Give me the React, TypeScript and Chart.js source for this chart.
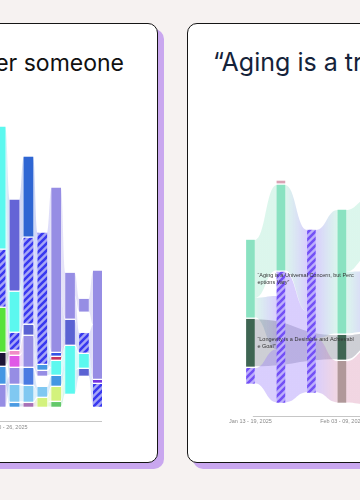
import React, { useEffect, useRef } from 'react';
import { Chart, registerables } from 'chart.js';

Chart.register(...registerables);

// ================= LEFT CARD DATA (weekly node sizes, bottom -> top) =================
const leftTickLabels = ['Jan 20 - 26, 2025'];
const leftTickWeeks = [0];

const leftW1 = [21, 16, 12, 43, 56, 121];
const leftW1Keys = ['lav', 'blue', 'navy', 'green', 'hatch', 'cyan'];
const leftW2 = [3, 16, 15, 10, 3, 16, 39, 90];
const leftW2Keys = ['blueS', 'lightBlue', 'lav', 'magenta', 'pink', 'hatch', 'cyan', 'peri'];
const leftW3 = [3, 15, 16, 30, 9, 85, 79];
const leftW3Keys = ['mauve', 'lightBlue', 'blue2', 'lav', 'peri2', 'hatch', 'blueDark'];
const leftW4 = [8, 9, 8, 4, 4, 130];
const leftW4Keys = ['lime', 'lightBlue', '', 'lav', 'blue', 'hatch'];
const leftW5 = [4, 13, 9, 13, 2, 2, 163];
const leftW5Keys = ['greenE', 'lime', 'blue', 'cyan', 'crimson', 'blue3', 'lav'];
const leftW6 = [11, 47, 24, 45];
const leftW6Keys = ['', 'cyan', 'peri2', 'lav'];
const leftW7 = [29, 6, 13, 19, 18, 12];
const leftW7Keys = ['', 'peri2', 'cyan', 'hatch', '', 'lav'];
const leftW8 = [22, 2, 107];
const leftW8Keys = ['hatch', 'purple', 'lav'];

// links between consecutive weeks: [fromSegment, toSegment, weight]
const leftLinks12 = [[0, 2, 1], [1, 1, 1], [1, 0, 1], [2, 4, 1], [3, 3, 1], [3, 2, 1], [4, 5, 1], [5, 6, 1], [5, 7, 2]];
const leftLinks23 = [[0, 0, 1], [1, 1, 1], [2, 2, 1], [3, 3, 1], [4, 3, 1], [5, 5, 1], [6, 5, 1], [7, 6, 1], [7, 5, 1]];
const leftLinks34 = [[0, 0, 1], [1, 1, 1], [2, 1, 1], [3, 3, 1], [3, 4, 1], [4, 5, 1], [5, 5, 2], [6, 5, 2]];
const leftLinks45 = [[0, 0, 1], [0, 1, 1], [1, 2, 1], [3, 3, 1], [4, 4, 1], [4, 5, 1], [5, 3, 1], [5, 6, 3]];
const leftLinks56 = [[0, 1, 1], [1, 1, 1], [2, 1, 1], [3, 1, 1], [4, 2, 1], [5, 2, 1], [6, 2, 1], [6, 3, 2]];
const leftLinks67 = [[1, 1, 1], [1, 2, 1], [2, 3, 1], [3, 3, 1], [3, 5, 1]];
const leftLinks78 = [[1, 0, 1], [2, 0, 1], [2, 1, 1], [3, 2, 1], [5, 2, 1]];

// ================= RIGHT CARD DATA =================
const rightTickLabels = ['Jan 13 - 19, 2025', 'Feb 03 - 09, 2025'];
const rightTickWeeks = [0, 3];
const rightBase = [33, 14, 24, 14, 12];

const rightW1 = [15, 47, 77];
const rightW1Keys = ['hatch', 'longevity', 'aging'];
const rightW2 = [130, 85, 2];
const rightW2Keys = ['hatch', 'aging', 'other'];
const rightW3 = [162];
const rightW3Keys = ['hatch'];
const rightW4 = [41, 24, 123];
const rightW4Keys = ['mauve', 'longevity', 'aging'];
const rightW5 = [55, 14, 60, 10, 58];
const rightW5Keys = ['mauve', 'longevity', 'hatch', '', 'aging'];

// [fromWeek, fromSegment, toWeek, toSegment, weight]; fromWeek -1 = unshown source
const rightLinks = [
  [0, 2, 1, 1, 3], [0, 2, 1, 0, 1], [0, 1, 3, 1, 1], [0, 0, 1, 0, 1], [-1, -1, 1, 0, 0.45],
  [1, 1, 2, 0, 1], [1, 0, 2, 0, 1],
  [2, 0, 3, 2, 2], [2, 0, 3, 0, 1],
  [3, 2, 4, 4, 1], [3, 2, 4, 2, 1], [3, 1, 4, 1, 1], [3, 0, 4, 0, 1],
];

const rightNodeLabels = [
  { week: 0, seg: 2, text: '“Aging is a Universal Concern, but Perceptions Vary”' },
  { week: 0, seg: 1, text: '“Longevity is a Desirable and Achievable Goal”' },
];

// ================= STYLES =================
const leftColors: Record<string, string> = {
  lav: '#968de4', blue: '#4597e3', navy: '#1d1535', green: '#58e23a', cyan: '#5cf8ef',
  blueS: '#4a9ae2', lightBlue: '#80c8f1', magenta: '#e058e6', pink: '#f08cc6', peri: '#6464d6',
  mauve: '#a870b6', blue2: '#4a7ae2', peri2: '#5b62d3', blueDark: '#2f66d3', lime: '#d3f27c',
  greenE: '#63c86a', crimson: '#c6355e', blue3: '#3354e6', purple: '#7434e0', hatch: '#6a6af0',
};
const rightColors: Record<string, string> = {
  aging: '#8ae2c1', longevity: '#3e6552', mauve: '#b09899', other: '#d9a3b5', hatch: '#9678fa',
};
const rightLinkColors: Record<string, string> = {
  aging: 'rgba(138,226,193,0.3)', longevity: 'rgba(90,95,115,0.3)', mauve: 'rgba(210,120,160,0.3)',
  other: 'rgba(210,120,160,0.3)', hatch: 'rgba(150,120,250,0.36)',
};

type Seg = { key: string; lo: number; hi: number };

function stackColumns(values: number[][], keys: string[][], bases: number[], gap: number): Seg[][] {
  return values.map((vals, c) => {
    let y = bases[c] || 0;
    return vals.map((v, i) => {
      const s = { key: keys[c][i], lo: y, hi: y + v };
      y += v + gap;
      return s;
    });
  });
}

function pairLinks(pairs: number[][][]): number[][] {
  const out: number[][] = [];
  pairs.forEach((list, c) => list.forEach(([a, b, w]) => out.push([c, a, c + 1, b, w])));
  return out;
}

function hexToRgba(hex: string, a: number) {
  const n = parseInt(hex.slice(1), 16);
  return `rgba(${(n >> 16) & 255},${(n >> 8) & 255},${n & 255},${a})`;
}

function computeRibbons(layout: Seg[][], links: number[][]) {
  const outs = new Map<string, number[][]>();
  const ins = new Map<string, number[][]>();
  links.forEach((l) => {
    if (l[0] >= 0) {
      const k = l[0] + ':' + l[1];
      if (!outs.has(k)) outs.set(k, []);
      outs.get(k)!.push(l);
    }
    const k2 = l[2] + ':' + l[3];
    if (!ins.has(k2)) ins.set(k2, []);
    ins.get(k2)!.push(l);
  });
  const src = new Map<number[], number[]>();
  const dst = new Map<number[], number[]>();
  const share = (node: Seg, ls: number[][], pos: (l: number[]) => number, into: Map<number[], number[]>) => {
    const total = ls.reduce((a, l) => a + l[4], 0);
    const sorted = [...ls].sort((a, b) => pos(a) - pos(b));
    let y = node.lo;
    sorted.forEach((l) => {
      const h = ((node.hi - node.lo) * l[4]) / total;
      into.set(l, [y, y + h]);
      y += h;
    });
  };
  outs.forEach((ls, k) => {
    const [c, s] = k.split(':').map(Number);
    share(layout[c][s], ls, (l) => layout[l[2]][l[3]].lo, src);
  });
  ins.forEach((ls, k) => {
    const [c, s] = k.split(':').map(Number);
    share(layout[c][s], ls, (l) => (l[0] < 0 ? 1e9 : layout[l[0]][l[1]].lo), dst);
  });
  return links
    .filter((l) => l[0] >= 0)
    .map((l) => ({
      from: l[0], to: l[2],
      fromKey: layout[l[0]][l[1]].key, toKey: layout[l[2]][l[3]].key,
      s: src.get(l)!, d: dst.get(l)!,
    }));
}

function makeHatch(base: string, stripe: string, size: number, lw: number) {
  const c = document.createElement('canvas');
  c.width = size;
  c.height = size;
  const g = c.getContext('2d')!;
  g.fillStyle = base;
  g.fillRect(0, 0, size, size);
  g.strokeStyle = stripe;
  g.lineWidth = lw;
  g.beginPath();
  g.moveTo(0, size); g.lineTo(size, 0);
  g.moveTo(-size / 2, size / 2); g.lineTo(size / 2, -size / 2);
  g.moveTo(size / 2, size * 1.5); g.lineTo(size * 1.5, size / 2);
  g.stroke();
  return g.createPattern(c, 'repeat')!;
}

function wrapChars(ctx: CanvasRenderingContext2D, text: string, maxW: number) {
  const lines: string[] = [];
  let cur = '';
  for (const ch of text) {
    if (cur && ctx.measureText(cur + ch).width > maxW) {
      lines.push(cur);
      cur = ch;
    } else cur += ch;
  }
  if (cur) lines.push(cur);
  return lines;
}

interface Spec {
  layout: Seg[][];
  links: number[][];
  fill: (k: string) => any;
  linkColor: (k: string) => string;
  xMin: number; xMax: number; yMin: number; yMax: number;
  bar: number;
  tickWeeks: number[]; tickLabels: string[]; tickPadding: number; labelOffset: number;
  axisFrom: number; axisTo: number;
  nodeLabels?: { week: number; seg: number; text: string }[];
}

function buildConfig(spec: Spec): any {
  const depth = Math.max(...spec.layout.map((c) => c.length));
  const datasets: any[] = [];
  for (let k = 0; k < depth; k++) {
    const data: any[] = [];
    spec.layout.forEach((col, i) => {
      const s = col[k];
      if (s && s.key) data.push({ x: i, y: [s.lo, s.hi], key: s.key });
    });
    datasets.push({
      data,
      backgroundColor: (c: any) => (c.raw ? spec.fill(c.raw.key) : 'transparent'),
      borderWidth: 0,
      barThickness: spec.bar,
      grouped: false,
      clip: false,
    });
  }
  const ribbons = computeRibbons(spec.layout, spec.links);
  const ribbonPlugin = {
    id: 'ribbons',
    beforeDatasetsDraw(chart: any) {
      const { ctx, scales: { x, y } } = chart;
      const hw = spec.bar / 2;
      ctx.save();
      ribbons.forEach((r) => {
        const x0 = x.getPixelForValue(r.from) + hw;
        const x1 = x.getPixelForValue(r.to) - hw;
        const xm = (x0 + x1) / 2;
        const a0 = y.getPixelForValue(r.s[1]);
        const b0 = y.getPixelForValue(r.s[0]);
        const a1 = y.getPixelForValue(r.d[1]);
        const b1 = y.getPixelForValue(r.d[0]);
        const g = ctx.createLinearGradient(x0, 0, x1, 0);
        g.addColorStop(0, spec.linkColor(r.fromKey));
        g.addColorStop(1, spec.linkColor(r.toKey));
        ctx.fillStyle = g;
        ctx.beginPath();
        ctx.moveTo(x0, a0);
        ctx.bezierCurveTo(xm, a0, xm, a1, x1, a1);
        ctx.lineTo(x1, b1);
        ctx.bezierCurveTo(xm, b1, xm, b0, x0, b0);
        ctx.closePath();
        ctx.fill();
      });
      ctx.restore();
    },
    afterDatasetsDraw(chart: any) {
      const { ctx, chartArea, scales: { x, y } } = chart;
      ctx.save();
      ctx.strokeStyle = '#c6c6c6';
      ctx.lineWidth = 1;
      const yy = Math.round(chartArea.bottom) + 0.5;
      ctx.beginPath();
      ctx.moveTo(x.getPixelForValue(spec.axisFrom), yy);
      ctx.lineTo(x.getPixelForValue(spec.axisTo), yy);
      ctx.stroke();
      if (spec.nodeLabels) {
        ctx.font = '5.5px "Liberation Sans", Arial, sans-serif';
        ctx.fillStyle = '#333333';
        ctx.textBaseline = 'middle';
        ctx.textAlign = 'left';
        spec.nodeLabels.forEach((nl) => {
          const node = spec.layout[nl.week][nl.seg];
          const lx = x.getPixelForValue(nl.week) + spec.bar / 2 + 3;
          const mid = y.getPixelForValue((node.lo + node.hi) / 2);
          const lines = wrapChars(ctx, nl.text, 97);
          lines.forEach((ln, i) => ctx.fillText(ln, lx, mid + (i - (lines.length - 1) / 2) * 7));
        });
      }
      ctx.restore();
    },
  };
  return {
    type: 'bar',
    data: { datasets },
    options: {
      animation: false,
      responsive: false,
      events: [],
      layout: { padding: 0 },
      plugins: { legend: { display: false }, tooltip: { enabled: false } },
      scales: {
        x: {
          type: 'linear',
          offset: false,
          min: spec.xMin,
          max: spec.xMax,
          afterBuildTicks: (s: any) => {
            s.ticks = spec.tickWeeks.map((v) => ({ value: v }));
          },
          ticks: {
            autoSkip: false,
            maxRotation: 0,
            padding: spec.tickPadding,
            labelOffset: spec.labelOffset,
            color: '#8a8a8a',
            font: { family: '"Liberation Sans", Arial, sans-serif', size: 5.5 },
            callback: (_v: any, i: number) => spec.tickLabels[i],
          },
          grid: { display: false, drawTicks: false },
          border: { display: false },
        },
        y: { type: 'linear', display: false, min: spec.yMin, max: spec.yMax },
      },
    },
    plugins: [ribbonPlugin],
  };
}

function ChartCanvas({ make, left, top, width, height }: { make: () => any; left: number; top: number; width: number; height: number }) {
  const ref = useRef<HTMLCanvasElement>(null);
  useEffect(() => {
    const chart = new Chart(ref.current!, make());
    return () => chart.destroy();
  }, []);
  return (
    <canvas
      ref={ref}
      width={width}
      height={height}
      style={{ position: 'absolute', left, top, width, height, display: 'block' }}
    />
  );
}

function makeLeft() {
  const layout = stackColumns(
    [leftW1, leftW2, leftW3, leftW4, leftW5, leftW6, leftW7, leftW8],
    [leftW1Keys, leftW2Keys, leftW3Keys, leftW4Keys, leftW5Keys, leftW6Keys, leftW7Keys, leftW8Keys],
    [],
    2,
  );
  const hatch = makeHatch('#a6a6f6', '#3838f0', 7, 2.6);
  return buildConfig({
    layout,
    links: pairLinks([leftLinks12, leftLinks23, leftLinks34, leftLinks45, leftLinks56, leftLinks67, leftLinks78]),
    fill: (k) => (k === 'hatch' ? hatch : leftColors[k]),
    linkColor: (k) => hexToRgba(leftColors[k] || '#968de4', 0.25),
    xMin: -3, xMax: 7.3, yMin: -15, yMax: 285,
    bar: 9,
    tickWeeks: leftTickWeeks, tickLabels: leftTickLabels, tickPadding: 3, labelOffset: 5.5,
    axisFrom: -3, axisTo: 7.3,
  });
}

function makeRight() {
  const layout = stackColumns(
    [rightW1, rightW2, rightW3, rightW4, rightW5],
    [rightW1Keys, rightW2Keys, rightW3Keys, rightW4Keys, rightW5Keys],
    rightBase,
    2,
  );
  const hatch = makeHatch('#bcaefb', '#7350f6', 7, 2.6);
  return buildConfig({
    layout,
    links: rightLinks,
    fill: (k) => (k === 'hatch' ? hatch : rightColors[k]),
    linkColor: (k) => rightLinkColors[k] || 'rgba(150,120,250,0.3)',
    xMin: -0.9, xMax: 5.3, yMin: 0, yMax: 260,
    bar: 8,
    tickWeeks: rightTickWeeks, tickLabels: rightTickLabels, tickPadding: 2, labelOffset: 0,
    axisFrom: 0.08, axisTo: 5.3,
    nodeLabels: rightNodeLabels,
  });
}

const cardStyle: React.CSSProperties = {
  position: 'absolute',
  top: 23,
  width: 328,
  height: 440,
  boxSizing: 'border-box',
  border: '1.5px solid #151515',
  borderRadius: 10,
  background: '#ffffff',
  boxShadow: '6px 6px 0 0 #c9a7ef',
};

const titleStyle: React.CSSProperties = {
  position: 'absolute',
  fontFamily: 'Inter, "Noto Sans", sans-serif',
  whiteSpace: 'nowrap',
};

export default function App() {
  return (
    <div
      style={{
        position: 'fixed',
        left: 0,
        top: 0,
        width: 360,
        height: 500,
        background: '#f6f2f1',
        overflow: 'hidden',
      }}
    >
      <div style={{ ...cardStyle, left: -170 }} />
      <div style={{ ...cardStyle, left: 187 }} />
      <div style={{ ...titleStyle, right: 236, top: 52, fontSize: 23, lineHeight: '23px', color: '#111111' }}>
        What makes you remember someone
      </div>
      <div style={{ ...titleStyle, left: 213, top: 50, fontSize: 25, lineHeight: '25px', color: '#15233a' }}>
        “Aging is a transformative journey”
      </div>
      <ChartCanvas make={makeLeft} left={-41} top={121} width={143} height={313} />
      <ChartCanvas make={makeRight} left={223} top={156} width={189} height={271} />
    </div>
  );
}
